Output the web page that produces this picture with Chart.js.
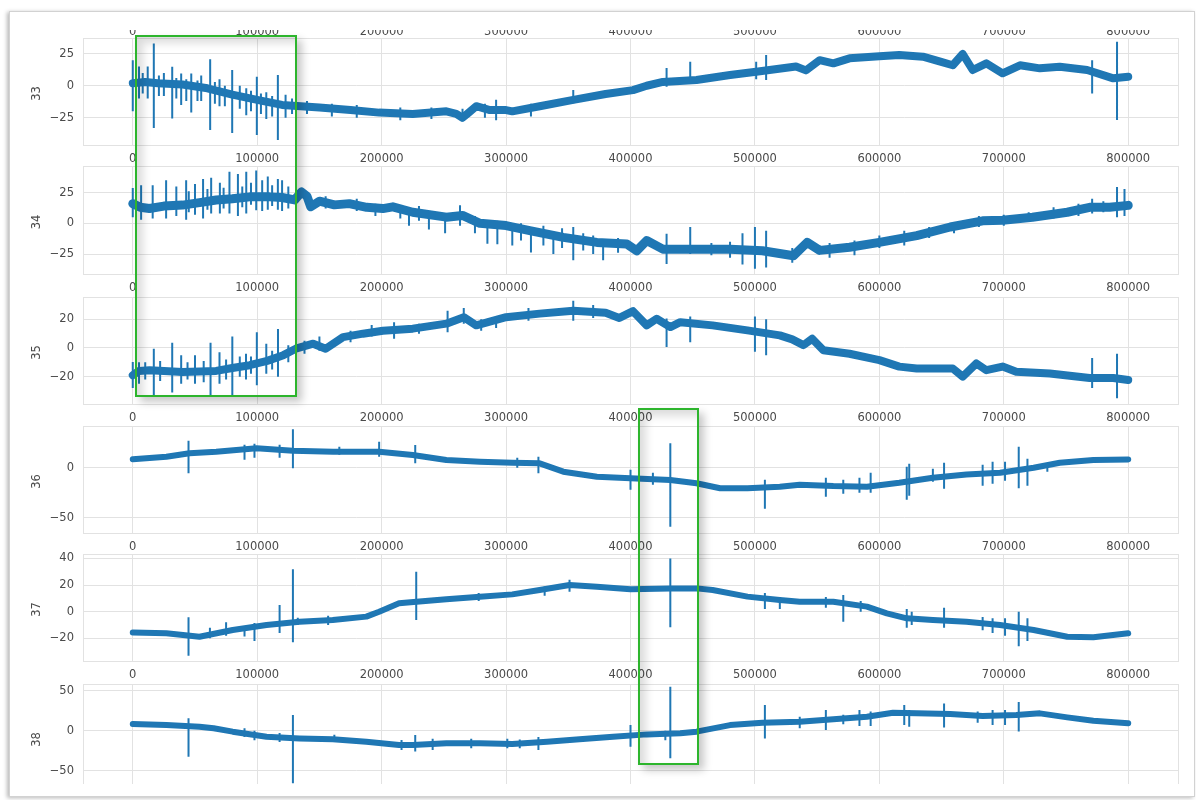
<!DOCTYPE html>
<html><head><meta charset="utf-8">
<script src="https://cdn.jsdelivr.net/npm/chart.js@4.4.1/dist/chart.umd.min.js"></script>
<style>
body{margin:0;background:#fff;width:1196px;height:800px;overflow:hidden;position:relative;font-family:"DejaVu Sans",sans-serif;}
#frame{position:absolute;left:9px;top:11px;width:1184px;height:784px;border:1px solid #d2d2d2;box-shadow:-2px 1px 4px rgba(0,0,0,0.28);background:#fff;}
canvas{position:absolute;left:0;}
.gbox{position:absolute;box-sizing:border-box;border:2px solid #2db52d;box-shadow:5px 5px 8px rgba(0,0,0,0.22), inset 6px 6px 9px rgba(0,0,0,0.14);}
#clip6{position:absolute;left:0;top:0;width:1196px;height:784px;overflow:hidden;}
</style></head>
<body>
<div id="frame"></div>
<div id="wrap"></div>
<div id="clip6"></div>
<div class="gbox" style="left:135px;top:35px;width:162px;height:362px;"></div>
<div class="gbox" style="left:638px;top:408px;width:61px;height:357px;"></div>
<script>
// ---------------- DATA ----------------
const xTicks = [0,100000,200000,300000,400000,500000,600000,700000,800000];
const seriesNames = ['33','34','35','36','37','38'];

const band33 = [[0,2],[10000,3],[20000,2],[40000,1],[60000,-2],[80000,-7],[100000,-11],[120000,-15],[135000,-16],[150000,-17],[175000,-19],[198000,-21],[225000,-22],[252000,-20],[260000,-22],[265000,-25],[270000,-21],[276000,-16],[287000,-19],[300000,-19],[305000,-20],[327000,-16],[354000,-11],[380000,-6.5],[402000,-3.4],[413000,0],[426000,3],[453000,4.5],[480000,8.4],[501000,11],[533000,15],[541000,12],[552000,20],[563000,17.5],[576000,21.4],[600000,23],[616000,24],[635000,22.7],[649000,18.8],[659000,16],[667000,24.8],[675000,12.3],[686000,17.5],[699000,9.7],[713000,16],[729000,13.6],[745000,14.8],[767000,12.3],[788000,5.8],[800000,7]];
const spikes33 = [[0,-20,20],[5000,-10,15],[8000,-6,10],[12000,-10,15],[16900,-33,33],[21000,-8,8],[25000,-8,10],[31700,-25.5,14.8],[35000,-10,6],[38900,-15,9.6],[43000,-12,5],[47000,-21,9.6],[52000,-12,4],[55000,-12,8],[62200,-34.6,20.6],[66000,-14,3],[69700,-16,5],[74000,-16,0],[79900,-37,12.3],[86000,-18,0],[91200,-23,-2],[95000,-20,-4],[99700,-38.5,7],[103000,-22,-6],[107300,-26,-5],[112000,-24,-8],[116600,-42.4,8.4],[122800,-25,-7],[128000,-22,-10],[140000,-22,-12],[160000,-24,-14],[180000,-25,-15],[215000,-27,-17],[240000,-26,-17],[265000,-28,-18],[283000,-25,-14],[292000,-27,-11],[320000,-24,-14],[354000,-13.6,-3.4],[429000,-0.8,13.8],[448000,1.9,18.8],[501000,5,18.8],[509000,4.5,24],[771000,-6,20],[791000,-26.8,34.4]];

const band34 = [[0,16],[6000,13],[13400,12],[25000,14],[40000,14.8],[55000,17],[67000,19],[80000,20],[94000,21.5],[110000,21.5],[120000,21],[130000,19],[135600,25.5],[140000,22],[143000,13.4],[150000,18],[162000,15],[174000,16],[188000,13],[201000,12],[209000,13.4],[225000,9],[252000,5],[265000,6.4],[279000,0],[300000,-1.8],[319000,-5.9],[346000,-11.4],[373000,-15.5],[397000,-16.8],[405000,-22.3],[413000,-14],[426000,-21],[453000,-21],[480000,-21],[506000,-22.3],[531000,-26.4],[542000,-15.5],[552000,-22],[576000,-19.5],[600000,-15.5],[630000,-10],[657000,-3],[683000,2],[699000,2.5],[723000,5],[751000,9],[769000,13],[785000,13],[800000,14.6]];
const spikes34 = [[0,5,28.7],[6700,3,31],[16000,4,31],[26800,4,35],[35000,6,30],[42900,3,35],[45000,9,26],[50000,7,32],[56500,4,36],[60000,11,28],[63000,8,37],[70000,8,33],[73000,12,29],[77700,8,42],[84500,6,40],[88000,13,30],[91200,8,42],[95000,15,33],[99200,10.6,43],[104000,10,35],[108500,11,38],[112000,14,31],[116600,11,36],[120000,10,35],[125000,12,30],[155000,12,22],[180000,10,20],[195000,6,16],[215000,4,14],[222000,-2,9],[230000,2,14],[238000,-5,8],[251000,-8,6],[263000,-2,14.6],[275000,-8,6],[285000,-16.6,2.7],[293000,-17,2],[305000,-18,-2],[312000,-14,0],[320000,-23.7,-3],[330000,-18,-2],[338000,-25,-8],[345000,-20,-4],[354000,-30,-3],[362000,-22,-8],[370000,-25,-10],[378000,-30,-15],[390000,-24,-12],[429000,-33,-8.4],[448000,-25,-3],[465000,-26,-16],[480000,-28,-15],[490000,-33.5,-8],[500000,-37,-3],[509000,-36,-6],[530000,-32,-20],[560000,-28,-16],[580000,-26,-14],[600000,-20,-10],[620000,-18,-6],[640000,-12,-3],[660000,-8,1],[680000,-3,6],[700000,-2,7],[720000,1,9],[740000,4,13],[760000,6,16],[771000,8,20],[780000,9,18],[791000,5,29.6],[797000,6,28]];

const band35 = [[0,-19],[5000,-16],[13400,-15.5],[25000,-16],[40000,-16.7],[67000,-16],[80000,-14],[94000,-12],[108000,-9],[121000,-5],[131000,-0.5],[145000,3],[155000,-0.5],[169000,7.6],[185000,10],[201000,12],[225000,13.5],[252000,17],[266000,21.5],[276000,15.8],[300000,21.5],[327000,24],[354000,26],[380000,24.6],[391000,21],[402000,25.7],[413000,15.8],[421000,20.4],[432000,14.6],[440000,18],[466000,15.8],[494000,12.3],[520000,8.8],[530000,6],[539000,2],[546000,6.5],[555000,-1.6],[576000,-4],[600000,-8.5],[616000,-13],[630000,-14.3],[659000,-14.3],[667000,-20],[678000,-10.8],[686000,-15.5],[699000,-13],[710000,-16.6],[737000,-17.8],[769000,-21],[788000,-21],[800000,-22.4]];
const spikes35 = [[0,-28,-9.7],[5000,-25,-10],[10000,-22,-10],[16900,-33,-0.5],[22000,-23,-9],[31700,-31,3.6],[38900,-25,-5],[44000,-22,-10],[50000,-25,-5],[57000,-24,-9],[62500,-33,3.6],[69700,-25,-3],[75000,-22,-8],[80000,-33,8],[86000,-20,-6],[91000,-22,-4],[95000,-18,-6],[99700,-26,11],[107300,-18,3],[112000,-15,-2],[116700,-20,13.3],[125000,-10,2],[138000,-4,5],[150000,-2,8],[175000,4,12],[192000,8,16],[210000,6.5,18],[230000,10,17],[253000,11,26],[266000,17,28],[280000,12,20],[292000,14,22],[318000,19,28],[354000,19,33],[370000,21,30],[429000,0.7,20.6],[448000,4,22],[500000,-2.6,22],[509000,-5,20],[771000,-28,-7],[791000,-35,-4]];

const band36 = [[0,8.4],[27000,11],[45600,14.4],[67000,16],[99500,19.4],[128700,17],[161000,16],[198000,16],[225000,12.7],[252000,7.7],[279000,6],[305000,5],[327000,4.4],[346000,-4],[373000,-9],[400000,-10.6],[432000,-12.3],[453000,-15.6],[472000,-20.6],[494000,-20.6],[520000,-19],[536000,-17],[563000,-18.4],[590000,-19],[616000,-15],[643000,-10],[670000,-6.7],[697000,-5],[724000,0],[745000,5],[772000,7.6],[800000,8.3]];
const spikes36 = [[44800,-5.6,27],[89800,8,23],[97800,10,24],[118000,10,23],[128700,-0.6,38.4],[166000,13,21],[198000,11,26],[227000,4.4,22.7],[309000,0,10],[326000,-5.6,11],[400000,-22,-2],[418000,-17,-5],[432000,-59,24.4],[508000,-41,-12],[557000,-29,-10],[571000,-26,-12],[584000,-25,-10],[593000,-25,-5],[622000,-32,1],[624000,-28,4],[643000,-14,-1],[652000,-21,5],[683000,-18,3],[691000,-16,6],[701000,-13,6],[712000,-20.6,21],[719000,-18,9],[735000,-4,3]];

const band37 = [[0,-15.7],[27000,-16.2],[53600,-18.8],[80300,-13.7],[107500,-10],[134000,-7.5],[160700,-6.2],[187700,-3.7],[198000,0],[214000,6.3],[228000,7.5],[252000,9.3],[279000,11.3],[305000,13],[327000,16.3],[351000,20],[373000,18.8],[400000,16.8],[432000,17.5],[453000,17.5],[466000,16.3],[494000,11.3],[520000,8.8],[536000,7.5],[563000,7.5],[590000,3.8],[606000,-1.2],[622000,-5],[643000,-6.2],[670000,-7.5],[697000,-10],[724000,-13.7],[751000,-18.8],[772000,-19.2],[800000,-16.2]];
const spikes37 = [[44800,-33,-4.2],[62000,-20,-12],[75000,-18,-8],[89800,-18.7,-10.7],[97800,-22,-8.5],[118000,-16,5],[128700,-23,31.8],[132600,-10,-4.5],[157000,-10,-3],[227800,-6.3,30],[278000,8,14],[331000,12,19],[351000,15,24],[432000,-11.7,40],[508000,2,14],[520000,2,11],[557000,3,11],[571000,-7.5,12.5],[585000,0,8],[622000,-12,2],[626000,-10,0],[652000,-12,3],[683000,-14,-4],[691000,-16,-5],[701000,-18,-5],[712000,-26,0],[719000,-22,-5]];

const band38 = [[0,8.4],[27000,7],[53600,5],[65000,3],[80300,-1.2],[107500,-7.5],[134000,-9.6],[160700,-10.8],[187700,-13.7],[214000,-17.9],[225000,-17.9],[252000,-15.8],[279000,-15.8],[305000,-16.6],[333000,-13.7],[359000,-10.8],[386000,-7.5],[413000,-4.6],[440000,-3.3],[453000,-1.2],[480000,7],[506000,10],[536000,11.3],[563000,14.2],[590000,17.5],[611000,22.5],[630000,21.7],[657000,20.8],[683000,18.4],[710000,19.6],[729000,21.7],[751000,16.7],[772000,12.5],[800000,9.2]];
const spikes38 = [[44800,-32.5,15.5],[89800,-8,3],[97800,-12,0],[118000,-14,-3],[128700,-65.7,19.6],[162000,-14,-5],[216000,-24,-11.6],[227000,-26,-5.4],[241000,-24,-10],[272000,-22,-10],[301000,-22,-10],[311000,-22,-11],[326000,-24,-8],[400000,-20,7],[428000,-12,0],[432000,-34.6,55],[508000,-9.6,32],[536000,3,17.5],[557000,1,26],[571000,8,20],[584000,6,26],[593000,6,24],[620000,7,32],[624000,5,26],[652000,4,34],[679000,10,24],[691000,7,26],[701000,7,26],[712000,-1,36]];

const yTicks = [[-25,0,25],[-25,0,25],[-20,0,20],[-50,0],[-20,0,20,40],[-50,0,50]];
const yRanges = [[-46.3,37.3],[-41.2,46.6],[-39.1,35.6],[-65.3,41.7],[-37,43.3],[-75.4,58.4]];

// ---------------- STYLE / LAYOUT ----------------
const BLUE = '#1f77b4', GRID = '#e2e2e2', TXT = '#4a4a4a';
const FONT = {family:'DejaVu Sans', size:11.5};
const plotTB = [[38,145],[166,274],[297,404],[426,533],[554,661],[684,791]];
const bandWidths = [8,9,8,6,6,6];
const bands = [band33,band34,band35,band36,band37,band38];
const spikes = [spikes33,spikes34,spikes35,spikes36,spikes37,spikes38];
const PADTOP = 10, XAXISH = 25, W = 1196;

function spikePts(arr){
  const out=[];
  arr.forEach(s=>{out.push({x:s[0],y:s[1]});out.push({x:s[0],y:s[2]});out.push({x:s[0],y:null});});
  return out;
}
const fmt = v => v<0 ? '\u2212'+Math.abs(v) : String(v);

bands.forEach((band,i)=>{
  const [T,B] = plotTB[i];
  const c = document.createElement('canvas');
  c.width = W; c.height = PADTOP + (B-T) + XAXISH;
  c.style.top = (T-PADTOP)+'px';
  (i===5 ? document.getElementById('clip6') : document.getElementById('wrap')).appendChild(c);
  const framePlugin = {
    id:'frame'+i,
    beforeDatasetsDraw(ch){
      const a=ch.chartArea, ctx=ch.ctx;
      ctx.save(); ctx.strokeStyle=GRID; ctx.lineWidth=1;
      ctx.strokeRect(Math.round(a.left)+0.5, Math.round(a.top)+0.5, Math.round(a.right-a.left), Math.round(a.bottom-a.top));
      ctx.restore();
    },
    afterDraw(ch){
      const a=ch.chartArea, ctx=ch.ctx;
      ctx.save();
      ctx.fillStyle=TXT; ctx.font='11.5px "DejaVu Sans"';
      ctx.translate(37,(a.top+a.bottom)/2+2); ctx.rotate(-Math.PI/2);
      ctx.textAlign='center'; ctx.textBaseline='middle';
      ctx.fillText(seriesNames[i],0,0);
      ctx.restore();
      if(i===0){
        // tick labels of the subplot above, cut off at the top of the view
        ctx.save();
        ctx.beginPath(); ctx.rect(0,2,W,a.top-2); ctx.clip();
        ctx.fillStyle=TXT; ctx.font='11.5px "DejaVu Sans"';
        ctx.textAlign='center'; ctx.textBaseline='alphabetic';
        const sx=ch.scales.x;
        xTicks.forEach(v=>ctx.fillText(String(v), sx.getPixelForValue(v), 7));
        ctx.restore();
      }
    }
  };
  new Chart(c,{
    type:'line',
    data:{datasets:[
      {data:band.map(p=>({x:p[0],y:p[1]})),borderColor:BLUE,borderWidth:bandWidths[i],pointRadius:0,borderJoinStyle:'round',borderCapStyle:'round',clip:0,tension:0},
      {data:spikePts(spikes[i]),borderColor:BLUE,borderWidth:2,pointRadius:0,spanGaps:false,clip:0}
    ]},
    options:{
      responsive:false, animation:false, devicePixelRatio:1,
      layout:{padding:{left:0,right:18,top:PADTOP,bottom:0}},
      plugins:{legend:{display:false},tooltip:{enabled:false}},
      scales:{
        x:{type:'linear',min:-40000,max:840000,
          afterBuildTicks:s=>{s.ticks=xTicks.map(v=>({value:v}));},
          afterFit:s=>{s.height=XAXISH;s.paddingLeft=0;s.paddingRight=0;},
          grid:{color:GRID,drawTicks:false},border:{display:false},
          ticks:{padding:7,color:TXT,font:FONT,maxRotation:0,autoSkip:false,callback:v=>String(v)}},
        y:{type:'linear',min:yRanges[i][0],max:yRanges[i][1],
          afterBuildTicks:s=>{s.ticks=yTicks[i].map(v=>({value:v}));},
          afterFit:s=>{s.width=83;s.paddingTop=0;s.paddingBottom=0;},
          grid:{color:GRID,drawTicks:false},border:{display:false},
          ticks:{padding:9,color:TXT,font:FONT,callback:v=>fmt(v)}}
      }
    },
    plugins:[framePlugin]
  });
});
</script>
</body></html>
